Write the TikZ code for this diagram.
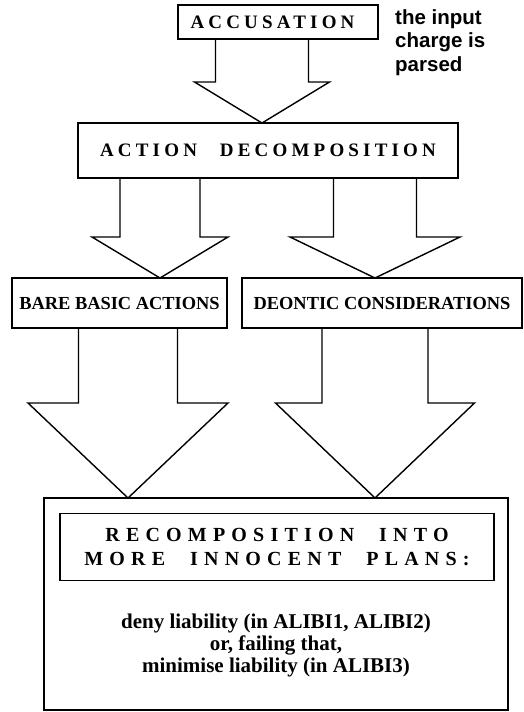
\documentclass[tikz,border=0pt]{standalone}
\usepackage{fontspec}
\setmainfont{Liberation Serif}
\newfontfamily\notefont{Liberation Sans}
\usetikzlibrary{calc}

% hollow block arrow: #1 top of shaft, #2 tip, #3 shaft half width,
% #4 head half width, #5 head length (all in pt)
\newcommand{\blockarrow}[5]{%
  \draw[blk] let \p1=(#1), \p2=(#2) in
    (\x2-#3pt,\y1) -- (\x2-#3pt,\y2+#5pt) -- (\x2-#4pt,\y2+#5pt) -- (\p2)
    -- (\x2+#4pt,\y2+#5pt) -- (\x2+#3pt,\y2+#5pt) -- (\x2+#3pt,\y1);}

% bold capitals with extra tracking: #1 size, #2 tracking (percent of size)
\newcommand{\spacedfont}[2]{\fontsize{#1}{24}\selectfont\bfseries\addfontfeature{LetterSpace=#2}}

\begin{document}
\begin{tikzpicture}[x=1pt,y=-1pt,
  box/.style={draw, line width=1.4pt, inner sep=0pt, align=center},
  blk/.style={draw, line width=1.4pt, line join=miter},
  plain/.style={font=\fontsize{18.4}{22}\selectfont\bfseries},
]
\useasboundingbox (0,0) rectangle (524,712);

% boxes
\node[box, minimum width=200pt, minimum height=34pt, font=\spacedfont{19}{22}]
  (acc) at (278,22) {ACCUSATION\hspace*{11pt}};
\node[box, minimum width=380pt, minimum height=55pt, font=\spacedfont{19}{22}]
  (dec) at (268,150.5) {ACTION\hspace{23pt}DECOMPOSITION};
\node[box, plain, minimum width=215pt, minimum height=50pt]
  (bare) at (119.5,303) {BARE BASIC ACTIONS};
\node[box, plain, minimum width=280pt, minimum height=50pt]
  (deon) at (382,303) {DEONTIC CONSIDERATIONS};
\node[box, minimum width=464pt, minimum height=212pt]
  (out) at (276,604) {};
\node[box, minimum width=434pt, minimum height=67pt, font=\spacedfont{20}{31}]
  (inn) at (277,547) {RECOMPOSITION\hspace{25pt}INTO\\MORE\hspace{25pt}INNOCENT\hspace{25pt}PLANS:};
\node[align=center, inner sep=0pt, font=\fontsize{21}{22}\selectfont\bfseries]
  (plans) at (276,645) {deny liability (in ALIBI1, ALIBI2)\\or, failing that,\\minimise liability (in ALIBI3)};

% side note
\node[anchor=base west, align=left, inner sep=0pt,
      font=\notefont\fontsize{20.5}{23.3}\selectfont\bfseries]
  (note) at (395,71) {the input\\charge is\\parsed};

% arrow tips
\coordinate (t1) at (262,123);
\coordinate (t2) at (160,278);
\coordinate (t3) at (375,278);
\coordinate (t4) at (128,498);
\coordinate (t5) at (375,498);

% block arrows
\blockarrow{acc.south -| t1}{t1}{46.5}{67.5}{41}
\blockarrow{dec.south -| t2}{t2}{40}{68}{41}
\blockarrow{dec.south -| t3}{t3}{41.5}{85}{41}
\blockarrow{bare.south -| t4}{t4}{49.5}{100}{95}
\blockarrow{deon.south -| t5}{t5}{53}{99.5}{95}
\end{tikzpicture}
\end{document}
